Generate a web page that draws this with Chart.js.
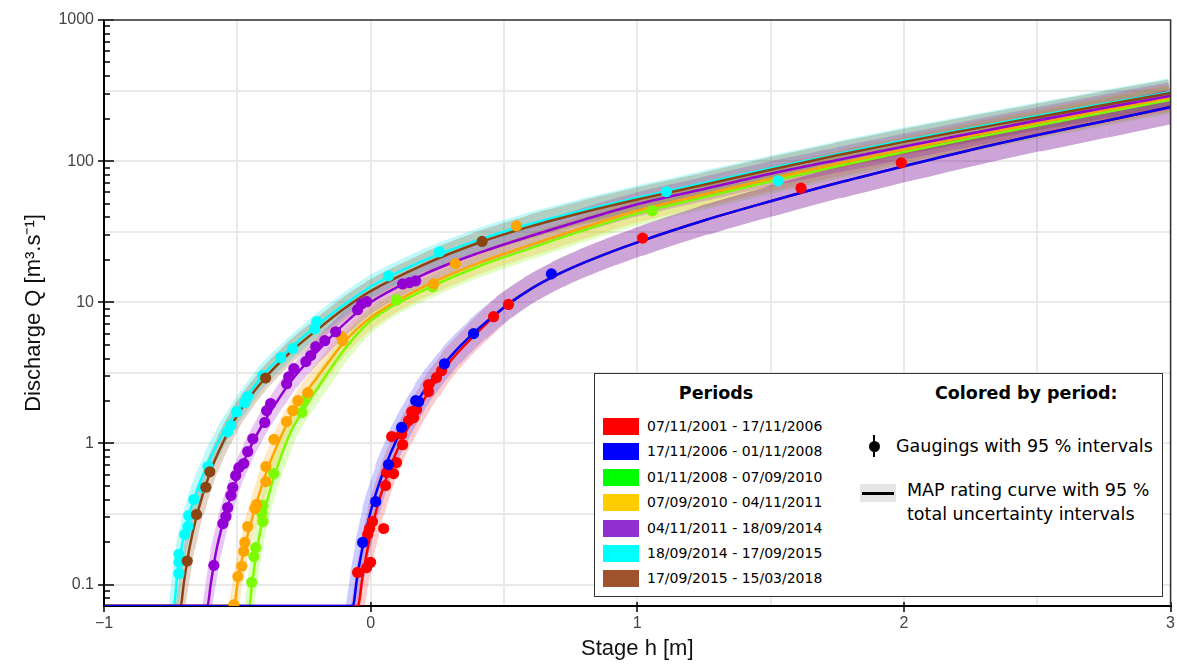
<!DOCTYPE html>
<html>
<head>
<meta charset="utf-8">
<title>Rating curves by period</title>
<script src="https://cdn.jsdelivr.net/npm/chart.js@4.4.1/dist/chart.umd.min.js"></script>
<style>
  body { margin: 0; background: #fff; }
  #wrap { position: relative; width: 1177px; height: 664px; }
  canvas { display: block; }
  #legend {
    position: absolute; left: 594px; top: 373px; width: 567px; height: 222px;
    border: 1px solid #333; background: #fff;
    font-family: 'DejaVu Sans', sans-serif; color: #000;
  }
  #legend div { position: absolute; white-space: nowrap; }
  .ttl { font-weight: bold; font-size: 17.5px; line-height: 20px; top: 9px; }
  .swatch { left: 8px; width: 36px; height: 17px; }
  .plab { left: 52px; font-size: 14px; line-height: 17px; }
  .big { font-size: 17.5px; }
</style>
</head>
<body>
<div id="wrap">
  <canvas id="myChart" width="1177" height="664"></canvas>
  <div id="legend">
    <div class="ttl" style="left:0;width:242px;text-align:center">Periods</div>
    <div class="ttl" style="left:340px">Colored by period:</div>
    <div style="left:278px;top:61px;width:2px;height:22px;background:#000"></div>
    <div style="left:273.5px;top:66.5px;width:11px;height:11px;border-radius:50%;background:#000"></div>
    <div class="big" style="left:301px;top:61px;line-height:22px">Gaugings with 95 % intervals</div>
    <div style="left:265px;top:110px;width:36px;height:18px;background:#e5e5e5"></div>
    <div style="left:267px;top:117.5px;width:32px;height:3px;background:#000"></div>
    <div class="big" style="left:312px;top:104px;line-height:24px">MAP rating curve with 95 %<br>total uncertainty intervals</div>
  </div>
</div>
<script>
// periods
const periodLabels = [
  '07/11/2001 - 17/11/2006',
  '17/11/2006 - 01/11/2008',
  '01/11/2008 - 07/09/2010',
  '07/09/2010 - 04/11/2011',
  '04/11/2011 - 18/09/2014',
  '18/09/2014 - 17/09/2015',
  '17/09/2015 - 15/03/2018'
];
const lineColors   = ['#ff0000', '#0000ff', '#7cfc00', '#ffa500', '#9400d3', '#00ffff', '#8b4513'];
const legendColors = ['#ff0000', '#0000ff', '#00ff00', '#ffcc00', '#9030d0', '#00ffff', '#a0522d'];
const bandColors = [
  'rgba(255,0,0,0.2)', 'rgba(0,0,255,0.2)', 'rgba(124,252,0,0.24)', 'rgba(255,165,0,0.24)',
  'rgba(148,0,211,0.22)', 'rgba(0,230,230,0.26)', 'rgba(139,69,19,0.24)'
];

// axis
const Q_MIN = 0.0706, Q_MAX = 1000;
const H_MIN = -1, H_MAX = 3;
const yLabelTicks = [0.1, 1, 10, 100, 1000];
const yHalfDecades = [0.316228, 3.16228, 31.6228, 316.228];

// MAP rating curves: stage h (m) and discharge Q (m3/s)
const redCurveH = [-1, -0.048, -0.03, -0.01, 0.02, 0.07, 0.12, 0.22, 0.3, 0.4, 0.5, 0.6, 0.7, 0.8, 0.9, 1.0, 1.25, 1.5, 1.75, 2.0, 2.25, 2.5, 2.75, 3.0];
const redCurveQ = [0.0706, 0.0706, 0.115, 0.185, 0.33, 0.65, 1.09, 2.36, 3.85, 6.1, 9.2, 12.4, 15.7, 19.1, 22.7, 26.6, 38, 52, 70, 92, 120, 153, 192, 242];

const blueCurveH = [-1, -0.067, -0.05, -0.03, 0, 0.05, 0.1, 0.2, 0.3, 0.4, 0.5, 0.6, 0.7, 0.8, 0.9, 1.0, 1.25, 1.5, 1.75, 2.0, 2.25, 2.5, 2.75, 3.0];
const blueCurveQ = [0.0706, 0.0706, 0.115, 0.185, 0.33, 0.65, 1.09, 2.36, 4.14, 6.4, 9.2, 12.4, 15.7, 19.1, 22.7, 26.6, 38, 52, 70, 92, 120, 153, 192, 242];

const greenCurveH = [-1, -0.455, -0.445, -0.43, -0.41, -0.38, -0.35, -0.3, -0.25, -0.2, -0.1, 0, 0.2, 0.4, 0.6, 0.8, 1.0, 1.25, 1.5, 1.75, 2.0, 2.25, 2.5, 2.75, 3.0];
const greenCurveQ = [0.0706, 0.0706, 0.10, 0.16, 0.26, 0.45, 0.68, 1.2, 1.75, 2.45, 4.6, 7.4, 12.2, 17.8, 24.2, 32.5, 42.5, 55.5, 72, 92, 116, 145, 179, 221, 272];

const orangeCurveH = [-1, -0.512, -0.5, -0.48, -0.45, -0.4, -0.35, -0.3, -0.25, -0.2, -0.1, 0, 0.2, 0.4, 0.6, 0.8, 1.0, 1.25, 1.5, 1.75, 2.0, 2.25, 2.5, 2.75, 3.0];
const orangeCurveQ = [0.0706, 0.0706, 0.10, 0.16, 0.27, 0.56, 0.98, 1.55, 2.2, 2.95, 5.2, 7.8, 12.9, 18.8, 25.5, 34, 44.5, 58, 75, 96, 121, 151, 186, 229, 281];

const purpleCurveH = [-1, -0.612, -0.6, -0.58, -0.55, -0.5, -0.45, -0.4, -0.35, -0.3, -0.2, -0.1, 0, 0.2, 0.4, 0.6, 0.8, 1.0, 1.25, 1.5, 1.75, 2.0, 2.25, 2.5, 2.75, 3.0];
const purpleCurveQ = [0.0706, 0.0706, 0.10, 0.17, 0.29, 0.58, 0.95, 1.42, 2.0, 2.75, 4.5, 7.0, 10.0, 15.8, 22.2, 29.5, 38.5, 49.5, 63.5, 81.5, 102, 127, 157, 194, 238, 290];

const cyanCurveH = [-1, -0.738, -0.725, -0.71, -0.69, -0.66, -0.6, -0.55, -0.5, -0.4, -0.3, -0.2, -0.1, 0, 0.2, 0.4, 0.6, 0.8, 1.0, 1.25, 1.5, 1.75, 2.0, 2.25, 2.5, 2.75, 3.0];
const cyanCurveQ = [0.0706, 0.0706, 0.12, 0.18, 0.27, 0.42, 0.80, 1.22, 1.72, 3.1, 4.75, 6.9, 9.6, 12.9, 19.8, 27.5, 36, 45, 55, 70, 89, 112, 140, 171, 209, 254, 309];

const brownCurveH = [-1, -0.713, -0.7, -0.68, -0.65, -0.6, -0.55, -0.5, -0.4, -0.3, -0.2, -0.1, 0, 0.2, 0.4, 0.6, 0.8, 1.0, 1.25, 1.5, 1.75, 2.0, 2.25, 2.5, 2.75, 3.0];
const brownCurveQ = [0.0706, 0.0706, 0.105, 0.18, 0.32, 0.64, 1.05, 1.58, 2.85, 4.45, 6.4, 9.0, 12.0, 18.5, 26.2, 34.5, 43.5, 53.5, 68, 87, 110, 137, 168, 205, 250, 304];

// gaugings: stage h (m) and discharge Q (m3/s)
const redGaugeH = [1.99, 1.614, 1.02, 0.517, 0.461, 0.266, 0.247, 0.217, 0.217, 0.172, 0.154, 0.161, 0.142, 0.116, 0.079, 0.12, 0.097, 0.06, 0.086, 0.056, 0.007, -0.004, 0.049, -0.011, 0.0, -0.015, -0.049];
const redGaugeQ = [97.3, 64.4, 28.5, 9.66, 7.91, 3.28, 2.93, 2.61, 2.33, 1.74, 1.68, 1.52, 1.45, 1.16, 1.12, 0.98, 0.733, 0.622, 0.612, 0.504, 0.28, 0.25, 0.25, 0.227, 0.144, 0.132, 0.122];

const blueGaugeH = [0.678, 0.386, 0.277, 0.18, 0.169, 0.116, 0.067, 0.019, -0.03];
const blueGaugeQ = [15.9, 6.0, 3.67, 1.98, 2.01, 1.3, 0.709, 0.388, 0.199];

const greenGaugeH = [1.056, 0.232, 0.097, -0.251, -0.258, -0.363, -0.404, -0.408, -0.404, -0.431, -0.438, -0.446];
const greenGaugeQ = [44.5, 12.9, 10.4, 1.98, 1.66, 0.612, 0.364, 0.319, 0.28, 0.183, 0.158, 0.104];

const orangeGaugeH = [0.547, 0.318, 0.236, -0.109, -0.105, -0.236, -0.273, -0.292, -0.315, -0.363, -0.393, -0.393, -0.427, -0.434, -0.461, -0.472, -0.476, -0.483, -0.498, -0.513];
const orangeGaugeQ = [34.8, 18.8, 13.5, 5.71, 5.35, 2.29, 2.01, 1.71, 1.43, 1.07, 0.687, 0.537, 0.37, 0.346, 0.258, 0.199, 0.172, 0.135, 0.114, 0.072];

const purpleGaugeH = [0.169, 0.146, 0.12, -0.015, -0.034, -0.049, -0.131, -0.172, -0.206, -0.225, -0.243, -0.288, -0.307, -0.315, -0.375, -0.39, -0.397, -0.442, -0.461, -0.476, -0.494, -0.506, -0.517, -0.524, -0.536, -0.543, -0.554, -0.588];
const purpleGaugeQ = [14.2, 13.8, 13.5, 10.1, 9.77, 8.87, 6.19, 5.35, 4.85, 4.19, 3.8, 3.39, 2.97, 2.65, 1.92, 1.71, 1.41, 1.08, 0.877, 0.721, 0.675, 0.593, 0.488, 0.428, 0.352, 0.304, 0.271, 0.137];

const cyanGaugeH = [1.528, 1.109, 0.258, 0.067, -0.202, -0.21, -0.292, -0.337, -0.404, -0.461, -0.472, -0.502, -0.524, -0.536, -0.61, -0.629, -0.663, -0.682, -0.685, -0.697, -0.719, -0.719, -0.719];
const cyanGaugeQ = [72.6, 60.7, 22.8, 15.4, 7.29, 6.5, 4.7, 4.06, 3.03, 2.15, 1.95, 1.68, 1.34, 1.21, 0.687, 0.488, 0.401, 0.309, 0.258, 0.227, 0.164, 0.144, 0.12];

const brownGaugeH = [0.418, -0.394, -0.603, -0.618, -0.653, -0.688];
const brownGaugeQ = [27.0, 2.91, 0.63, 0.49, 0.314, 0.147];

const curveH = [redCurveH, blueCurveH, greenCurveH, orangeCurveH, purpleCurveH, cyanCurveH, brownCurveH];
const curveQ = [redCurveQ, blueCurveQ, greenCurveQ, orangeCurveQ, purpleCurveQ, cyanCurveQ, brownCurveQ];
const gaugeH = [redGaugeH, blueGaugeH, greenGaugeH, orangeGaugeH, purpleGaugeH, cyanGaugeH, brownGaugeH];
const gaugeQ = [redGaugeQ, blueGaugeQ, greenGaugeQ, orangeGaugeQ, purpleGaugeQ, cyanGaugeQ, brownGaugeQ];

// drawing rank (0 = on top)
const drawRank = [1, 0, 5, 4, 3, 6, 2];

// legend rows
const legendEl = document.getElementById('legend');
periodLabels.forEach((lab, i) => {
  const top = 44 + i * 25.4;
  const sw = document.createElement('div');
  sw.className = 'swatch';
  sw.style.top = top + 'px';
  sw.style.background = legendColors[i];
  legendEl.appendChild(sw);
  const tx = document.createElement('div');
  tx.className = 'plab';
  tx.style.top = top + 'px';
  tx.textContent = lab;
  legendEl.appendChild(tx);
});

const toXY = (hs, qs) => hs.map((h, i) => ({ x: h, y: qs[i] }));
const bandWidth = (i, q) => {
  const base = (i < 2) ? 14 : 10;
  const k = (i < 2) ? 6 : 5;
  return base + k * Math.log10(Math.max(q, 0.1) / 0.1);
};

const datasets = [];
periodLabels.forEach((lab, i) => {
  const curve = toXY(curveH[i], curveQ[i]);
  datasets.push({
    label: lab + ' interval',
    data: curve.slice(1),
    showLine: true,
    borderColor: bandColors[i],
    borderWidth: 14,
    borderCapStyle: 'butt',
    borderJoinStyle: 'round',
    cubicInterpolationMode: 'monotone',
    pointRadius: 0,
    segment: {
      borderWidth: ctx => bandWidth(i, Math.sqrt(ctx.p0.parsed.y * ctx.p1.parsed.y))
    },
    order: 300 + drawRank[i]
  });
  datasets.push({
    label: lab + ' MAP',
    data: curve,
    showLine: true,
    borderColor: lineColors[i],
    borderWidth: 2.5,
    cubicInterpolationMode: 'monotone',
    pointRadius: 0,
    order: 200 + drawRank[i]
  });
  datasets.push({
    label: lab + ' gaugings',
    data: toXY(gaugeH[i], gaugeQ[i]),
    showLine: false,
    pointRadius: 5.6,
    pointBackgroundColor: lineColors[i],
    pointBorderWidth: 0,
    order: 100 + drawRank[i]
  });
});

// y ticks: labelled decades, minor multiples, half-decade grid
const yTicks = [];
[0.01, 0.1, 1, 10, 100].forEach(d => {
  for (let k = 1; k <= 9; k++) {
    const v = k === 1 ? d : Number((k * d).toPrecision(3));
    if (v >= Q_MIN && v <= Q_MAX) yTicks.push(v);
  }
});
yTicks.push(Q_MAX);
yHalfDecades.forEach(v => yTicks.push(v));
yTicks.sort((a, b) => a - b);

const isLabel = v => yLabelTicks.includes(v);
const isHalf = v => yHalfDecades.includes(v);

const axisDecor = {
  id: 'axisDecor',
  afterDatasetsDraw(chart) {
    const { ctx, chartArea: a, scales: { x, y } } = chart;
    ctx.save();
    ctx.strokeStyle = '#000';
    ctx.lineWidth = 1.5;
    ctx.beginPath();
    y.ticks.forEach(t => {
      if (isHalf(t.value)) return;
      const py = Math.round(y.getPixelForValue(t.value));
      const len = isLabel(t.value) ? 10 : 6;
      ctx.moveTo(a.left, py);
      ctx.lineTo(a.left + len, py);
    });
    x.ticks.forEach(t => {
      if (!Number.isInteger(t.value)) return;
      const px = Math.round(x.getPixelForValue(t.value));
      ctx.moveTo(px, a.bottom);
      ctx.lineTo(px, a.bottom - 4);
    });
    ctx.stroke();
    ctx.strokeStyle = '#333';
    ctx.lineWidth = 1.5;
    ctx.beginPath();
    ctx.moveTo(a.left, a.top);
    ctx.lineTo(a.right, a.top);
    ctx.lineTo(a.right, a.bottom);
    ctx.stroke();
    ctx.restore();
  }
};

const tickFont = { family: 'Liberation Sans', size: 16 };
const titleFont = { family: 'Liberation Sans', size: 22 };

new Chart(document.getElementById('myChart'), {
  type: 'scatter',
  data: { datasets },
  options: {
    responsive: false,
    animation: false,
    devicePixelRatio: 1,
    layout: { padding: { top: 20, right: 5, left: 0, bottom: 0 } },
    plugins: { legend: { display: false }, tooltip: { enabled: false } },
    scales: {
      x: {
        type: 'linear',
        min: H_MIN,
        max: H_MAX,
        afterFit: s => { s.height = 58; },
        ticks: {
          stepSize: 0.5,
          autoSkip: false,
          maxRotation: 0,
          padding: 2,
          color: '#444',
          font: tickFont,
          callback: v => Number.isInteger(v) ? (v < 0 ? '\u2212' + Math.abs(v) : String(v)) : ''
        },
        grid: {
          color: '#e9e9e9',
          lineWidth: 2,
          tickLength: 6,
          tickWidth: 1.5,
          tickColor: c => Number.isInteger(c.tick.value) ? '#000' : 'rgba(0,0,0,0)'
        },
        border: { color: '#000', width: 2 },
        title: { display: true, text: 'Stage h [m]', color: '#111', font: titleFont, padding: { top: 0, bottom: 2 } }
      },
      y: {
        type: 'logarithmic',
        min: Q_MIN,
        max: Q_MAX,
        bounds: 'data',
        afterFit: s => { s.width = 104; },
        afterBuildTicks: s => { s.ticks = yTicks.map(v => ({ value: v })); },
        ticks: {
          autoSkip: false,
          padding: 4,
          color: '#444',
          font: tickFont,
          callback: v => isLabel(v) ? String(v) : ''
        },
        grid: {
          color: c => (isLabel(c.tick.value) || isHalf(c.tick.value)) ? '#e9e9e9' : 'rgba(0,0,0,0)',
          lineWidth: 2,
          tickLength: 6,
          tickWidth: 1.5,
          tickColor: c => isLabel(c.tick.value) ? '#000' : 'rgba(0,0,0,0)'
        },
        border: { color: '#000', width: 2 },
        title: { display: true, text: 'Discharge Q [m³.s⁻¹]', color: '#111', font: titleFont, padding: { top: 21, bottom: 0 } }
      }
    }
  },
  plugins: [axisDecor]
});
</script>
</body>
</html>
